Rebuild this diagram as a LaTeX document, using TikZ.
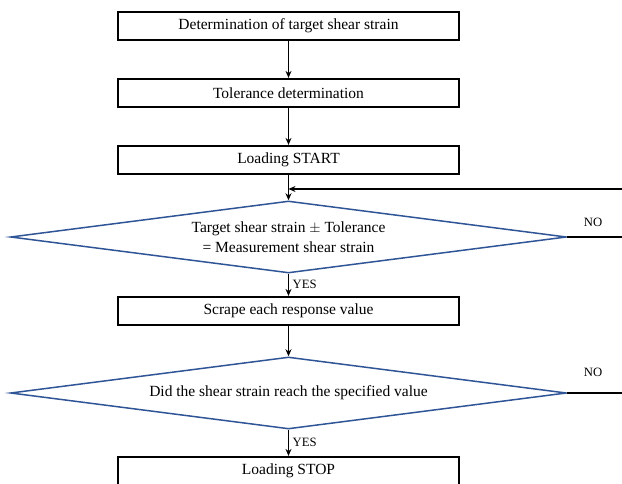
\documentclass[tikz,border=0pt]{standalone}
\usepackage{fontspec}
\setmainfont{Liberation Serif}
\usetikzlibrary{arrows.meta,shapes,calc,positioning}
\definecolor{diablue}{RGB}{47,85,151}
\begin{document}
\begin{tikzpicture}[x=1pt,y=-1pt]
		\tikzstyle{every node}=[font=\fontsize{15.5}{20}\selectfont]
		\tikzstyle{box}=[draw, line width=2.2pt, minimum width=341pt, minimum height=28pt, inner sep=0pt]
		\tikzstyle{decision}=[diamond, draw=diablue, line width=1.5pt, minimum width=556pt, minimum height=72pt, aspect=7.7, inner sep=0pt, align=center]
		\tikzstyle{flow}=[line width=1.8pt, -{Stealth[length=7pt,width=6pt]}]
		\tikzstyle{plain}=[line width=1.8pt]
		\tikzstyle{tag}=[font=\fontsize{12.7}{15}\selectfont]
		\useasboundingbox (0,0) rectangle (622,484);
		\node [box] (target) at (288.5,26) {Determination of target shear strain};
		\node [box] (tol) at (288.5,93) {Tolerance determination};
		\node [box] (start) at (288.5,160) {Loading START};
		\node [decision] (check) at (288.5,237) {Target shear strain $\pm$ Tolerance\\= Measurement shear strain};
		\node [box] (scrape) at (288.5,311) {Scrape each response value};
		\node [decision] (reach) at (288.5,393) {Did the shear strain reach the specified value};
		\node [box] (stop) at (288.5,471) {Loading STOP};
		\coordinate (ret) at (622,189);
		\coordinate (no1) at (622,237);
		\coordinate (no2) at (622,393);
		\draw [flow] (target) -- (tol);
		\draw [flow] (tol) -- (start);
		\draw [flow] (start.south) -- (check.north);
		\draw [flow] (check.south) -- node [tag, right] {YES} (scrape.north);
		\draw [flow] (scrape.south) -- (reach.north);
		\draw [flow] (reach.south) -- node [tag, right] {YES} (stop.north);
		\draw [flow] (ret) -- (ret -| start.south);
		\draw [plain] (check.east) -- (no1);
		\draw [plain] (reach.east) -- (no2);
		\node [tag] (no1lbl) at (593,222) {NO};
		\node [tag] (no2lbl) at (593,372) {NO};
		\end{tikzpicture}
\end{document}
